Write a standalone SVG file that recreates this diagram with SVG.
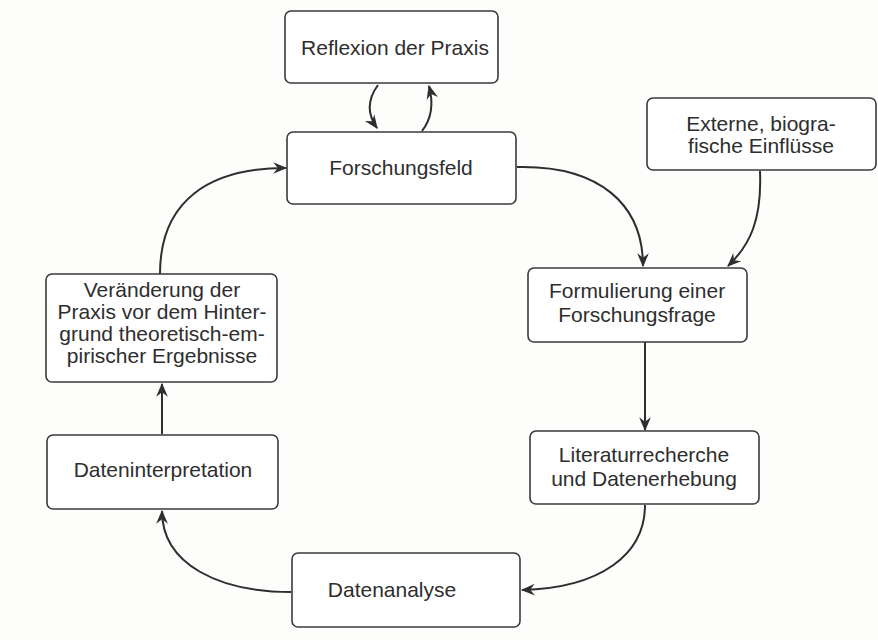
<svg xmlns="http://www.w3.org/2000/svg" width="878" height="640" viewBox="0 0 878 640">
  <defs>
    <style>
      .box { fill: #ffffff; stroke: #3a3a3a; stroke-width: 1.6; }
      .lbl { font-family: "Liberation Sans", Arial, Helvetica, sans-serif; font-size: 21px; fill: #2e2e2e; text-anchor: middle; }
      .edge { fill: none; stroke: #2e2e2e; stroke-width: 2; }
    </style>
    <marker id="arrow" viewBox="0 0 12 12" refX="11" refY="6" markerWidth="14" markerHeight="14" markerUnits="userSpaceOnUse" orient="auto">
      <path d="M0,1 L12,6 L0,11 L4,6 z" fill="#2e2e2e"/>
    </marker>
  </defs>

  <rect x="0" y="0" width="878" height="640" fill="#fdfdfc"/>

  <!-- connectors -->
  <g id="connectors">
    <path class="edge" d="M378,85 C367,100 367,114 377,128" marker-end="url(#arrow)"/>
    <path class="edge" d="M422,131 C433,117 433,101 429,86" marker-end="url(#arrow)"/>
    <path class="edge" d="M517,167 C600,165 643,205 643,266" marker-end="url(#arrow)"/>
    <path class="edge" d="M760,171 C762,220 750,245 728,266" marker-end="url(#arrow)"/>
    <path class="edge" d="M645,342 L645,430" marker-end="url(#arrow)"/>
    <path class="edge" d="M645,505 C645,555 600,588 522,590" marker-end="url(#arrow)"/>
    <path class="edge" d="M291,592 C220,592 162,565 162,511" marker-end="url(#arrow)"/>
    <path class="edge" d="M162,434 L162,384" marker-end="url(#arrow)"/>
    <path class="edge" d="M160,274 C160,200 210,168 286,168" marker-end="url(#arrow)"/>
  </g>

  <!-- nodes -->
  <g id="reflexion">
    <rect class="box" x="285" y="11" width="213" height="72" rx="6"/>
    <text class="lbl" x="395" y="55">Reflexion der Praxis</text>
  </g>
  <g id="forschungsfeld">
    <rect class="box" x="287" y="132" width="229" height="72" rx="6"/>
    <text class="lbl" x="401" y="175">Forschungsfeld</text>
  </g>
  <g id="externe">
    <rect class="box" x="647" y="98" width="229" height="72" rx="6"/>
    <text class="lbl" x="761" y="131">Externe, biogra-</text>
    <text class="lbl" x="761" y="153">fische Einflüsse</text>
  </g>
  <g id="formulierung">
    <rect class="box" x="528" y="268" width="219" height="74" rx="6"/>
    <text class="lbl" x="637" y="298">Formulierung einer</text>
    <text class="lbl" x="637" y="322">Forschungsfrage</text>
  </g>
  <g id="literatur">
    <rect class="box" x="530" y="431" width="229" height="73" rx="6"/>
    <text class="lbl" x="644" y="462">Literaturrecherche</text>
    <text class="lbl" x="644" y="486">und Datenerhebung</text>
  </g>
  <g id="datenanalyse">
    <rect class="box" x="292" y="553" width="228" height="74" rx="6"/>
    <text class="lbl" x="392" y="597">Datenanalyse</text>
  </g>
  <g id="dateninterpretation">
    <rect class="box" x="47" y="435" width="231" height="74" rx="6"/>
    <text class="lbl" x="163" y="477">Dateninterpretation</text>
  </g>
  <g id="veraenderung">
    <rect class="box" x="46" y="274" width="231" height="108" rx="6"/>
    <text class="lbl" x="162" y="297">Veränderung der</text>
    <text class="lbl" x="162" y="319">Praxis vor dem Hinter-</text>
    <text class="lbl" x="162" y="341">grund theoretisch-em-</text>
    <text class="lbl" x="162" y="363">pirischer Ergebnisse</text>
  </g>
</svg>
